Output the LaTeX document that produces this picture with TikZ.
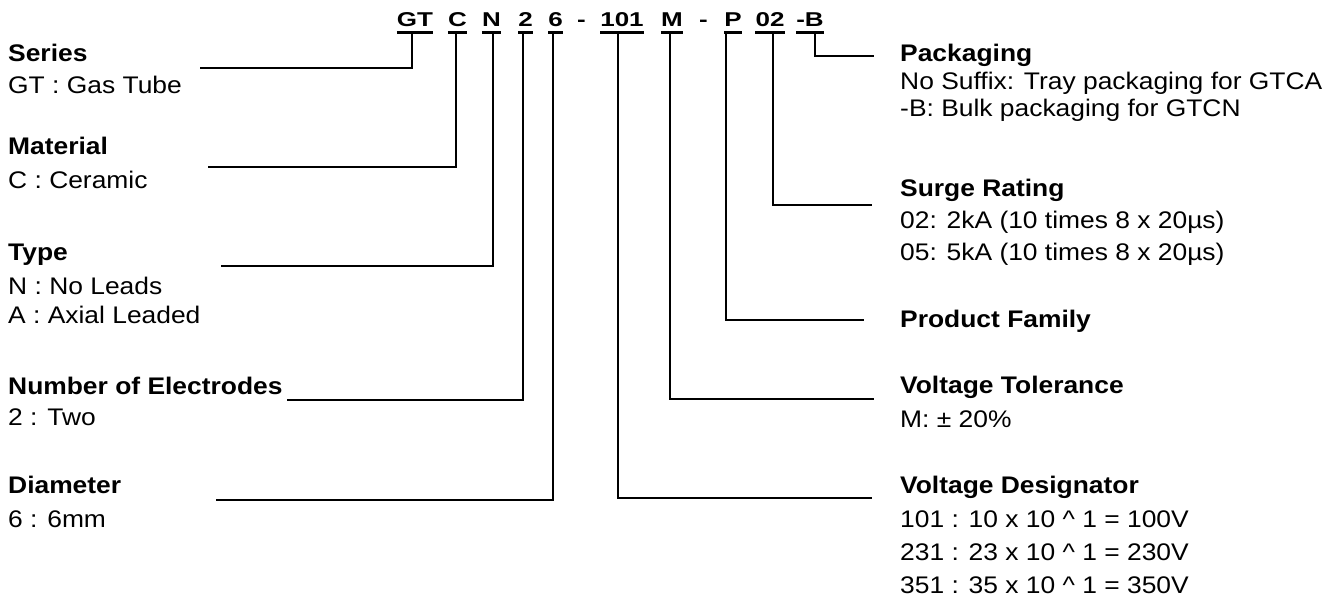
\documentclass[tikz,border=0pt]{standalone}
\usepackage{fontspec}
\setmainfont{Liberation Sans}[FakeStretch=1.1]
\newfontfamily\codefont{Liberation Sans}[FakeStretch=1.3]
\begin{document}
\begin{tikzpicture}[x=1pt,y=-1pt,
  lbl/.style={anchor=base west, inner sep=0pt, font=\fontsize{24}{31}\selectfont},
  ttl/.style={anchor=base west, inner sep=0pt, font=\fontsize{24}{31}\selectfont\bfseries},
  code/.style={anchor=base, inner sep=0pt, font=\codefont\fontsize{20}{24}\selectfont\bfseries},
  bar/.style={line width=3pt},
  conn/.style={line width=1.5pt}]
\useasboundingbox (0,0) rectangle (1336,599);
% code tokens
\node[code] (cGT) at (415,27) {GT};
\node[code] (cC) at (457.5,27) {C};
\node[code] (cN) at (491.5,27) {N};
\node[code] (c2) at (525.5,27) {2};
\node[code] (c6) at (555.5,27) {6};
\node[code] (cd1) at (581.5,27) {-};
\node[code] (c101) at (622,27) {101};
\node[code] (cM) at (672,27) {M};
\node[code] (cd2) at (703.5,27) {-};
\node[code] (cP) at (733,27) {P};
\node[code] (c02) at (770,27) {02};
\node[code] (cB) at (810,27) {-B};
\foreach \n in {cGT,cC,cN,c2,c6,c101,cM,cP,c02,cB}
  \draw[bar] ([yshift=-5.5pt]\n.base west) -- ([yshift=-5.5pt]\n.base east);
% tick tops
\coordinate (tGT) at (412,32.5);
\coordinate (tC) at (456,32.5);
\coordinate (tN) at (493,32.5);
\coordinate (t2) at (523,32.5);
\coordinate (t6) at (553,32.5);
\coordinate (t101) at (618,32.5);
\coordinate (tM) at (670,32.5);
\coordinate (tP) at (726,32.5);
\coordinate (t02) at (773,32.5);
\coordinate (tB) at (815,32.5);
% line ends
\coordinate (eSeries) at (200,68);
\coordinate (eMat) at (208,167);
\coordinate (eType) at (221,266);
\coordinate (eNoE) at (287,400);
\coordinate (eDia) at (216,500);
\coordinate (eVD) at (872,498);
\coordinate (eVT) at (874,399);
\coordinate (ePF) at (864,320);
\coordinate (eSR) at (872,205);
\coordinate (ePk) at (874,56);
\draw[conn] (tGT) |- (eSeries);
\draw[conn] (tC) |- (eMat);
\draw[conn] (tN) |- (eType);
\draw[conn] (t2) |- (eNoE);
\draw[conn] (t6) |- (eDia);
\draw[conn] (t101) |- (eVD);
\draw[conn] (tM) |- (eVT);
\draw[conn] (tP) |- (ePF);
\draw[conn] (t02) |- (eSR);
\draw[conn] (tB) |- (ePk);
% left labels
\node[ttl] (series) at (8,62) {Series};
\node[lbl] (seriesA) at (8,94) {GT : Gas Tube};
\node[ttl] (mat) at (8,155) {Material};
\node[lbl] (matA) at (8,189) {C : Ceramic};
\node[ttl] (type) at (8,260) {Type};
\node[lbl] (typeA) at (8,294) {N : No Leads};
\node[lbl] (typeB) at (8,323) {A : Axial Leaded};
\node[ttl] (noe) at (8,394) {Number of Electrodes};
\node[lbl] (noeA) at (8,425) {2 : Two};
\node[ttl] (dia) at (8,493) {Diameter};
\node[lbl] (diaA) at (8,527) {6 : 6mm};
% right labels
\node[ttl] (pk) at (900,62) {Packaging};
\node[lbl] (pkA) at (900,90) {No Suffix: Tray packaging for GTCA};
\node[lbl] (pkB) at (900,117) {-B: Bulk packaging for GTCN};
\node[ttl] (sr) at (900,196) {Surge Rating};
\node[lbl] (srA) at (900,228) {02: 2kA (10 times 8 x 20µs)};
\node[lbl] (srB) at (900,260) {05: 5kA (10 times 8 x 20µs)};
\node[ttl] (pf) at (900,327) {Product Family};
\node[ttl] (vt) at (900,393) {Voltage Tolerance};
\node[lbl] (vtA) at (900,427) {M: ± 20\%};
\node[ttl] (vd) at (900,493) {Voltage Designator};
\node[lbl] (vdA) at (900,527) {101 : 10 x 10 \textasciicircum{} 1 = 100V};
\node[lbl] (vdB) at (900,560) {231 : 23 x 10 \textasciicircum{} 1 = 230V};
\node[lbl] (vdC) at (900,593) {351 : 35 x 10 \textasciicircum{} 1 = 350V};
\end{tikzpicture}
\end{document}
